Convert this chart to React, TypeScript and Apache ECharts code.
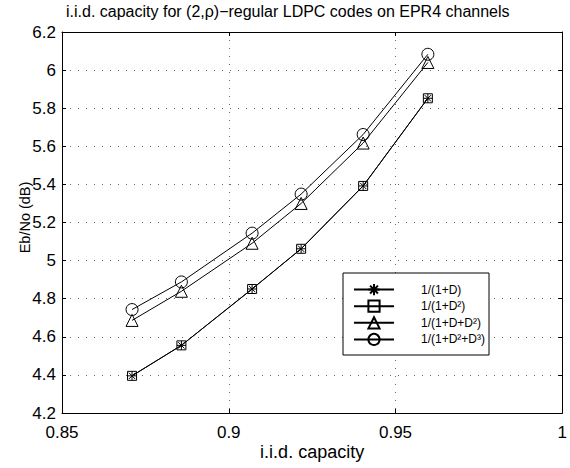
import React, { useEffect, useRef } from "react";
import * as echarts from "echarts";

const capacity = [0.871, 0.8858, 0.907, 0.9217, 0.9403, 0.9597];
const seriesNames = ["1/(1+D)", "1/(1+D²)", "1/(1+D+D²)", "1/(1+D²+D³)"];
const ebnoD = [4.395, 4.555, 4.851, 5.062, 5.392, 5.852];
const ebnoD2 = [4.395, 4.555, 4.851, 5.062, 5.392, 5.852];
const ebnoDD2 = [4.686, 4.839, 5.091, 5.3, 5.617, 6.04];
const ebnoD2D3 = [4.743, 4.888, 5.144, 5.349, 5.662, 6.083];
const titleText = "i.i.d. capacity for (2,ρ)−regular LDPC codes on EPR4 channels";
const xName = "i.i.d. capacity";
const yName = "Eb/No (dB)";

const FONT = "'Liberation Sans', Arial, Helvetica, sans-serif";
const ASTERISK = "path://M0,-5L0,5M-5,0L5,0M-3.54,-3.54L3.54,3.54M-3.54,3.54L3.54,-3.54";

function pairs(ys: number[]) {
  return capacity.map((x, i) => [x, ys[i]]);
}

export default function App() {
  const ref = useRef<HTMLDivElement>(null);
  useEffect(() => {
    if (!ref.current) return;
    const chart = echarts.init(ref.current, undefined, { renderer: "svg" });
    const baseSeries = (name: string, data: number[], symbol: string, size: number) => ({
      name,
      type: "line",
      data: pairs(data),
      symbol,
      symbolSize: size,
      showAllSymbol: true,
      lineStyle: { color: "#000", width: 1 },
      itemStyle: { color: "rgba(0,0,0,0)", borderColor: "#000", borderWidth: 1 },
      emphasis: { disabled: true },
    });
    const axisCommon = {
      axisLine: { show: true, onZero: false, lineStyle: { color: "#000", width: 1 } },
      axisTick: { show: true, inside: true, length: 4, lineStyle: { color: "#000" } },
    };
    const option: any = {
      animation: false,
      backgroundColor: "#fff",
      textStyle: { fontFamily: FONT },
      graphic: [
        {
          type: "text",
          left: 66,
          top: 3,
          style: {
            text: titleText,
            fontFamily: FONT,
            fontSize: 16,
            fill: "#000",
          },
        },
      ],
      grid: { left: 62, right: 2, top: 32, bottom: 55, containLabel: false },
      legend: {
        data: seriesNames,
        orient: "vertical",
        left: 343,
        top: 273,
        itemWidth: 40,
        itemHeight: 14,
        itemGap: 3.4,
        padding: [10, 4, 9, 10],
        borderColor: "#000",
        borderWidth: 1,
        backgroundColor: "#fff",
        selectedMode: false,
        formatter: (n: string) => `{t|${n}}`,
        textStyle: {
          fontFamily: FONT,
          fontSize: 12,
          color: "#000",
          rich: { t: { fontFamily: FONT, fontSize: 12, color: "#000", padding: [0, 0, 0, 22] } },
        },
      },
      xAxis: [
        {
          type: "value",
          min: 0.85,
          max: 1,
          interval: 0.05,
          name: xName,
          nameLocation: "middle",
          nameGap: 30,
          nameMoveOverlap: false,
          nameTextStyle: { fontFamily: FONT, fontSize: 18, color: "#000" },
          ...axisCommon,
          axisLabel: { fontFamily: FONT, fontSize: 17, color: "#000", margin: 11 },
          splitLine: { show: true, lineStyle: { color: "#666", width: 1, type: [1, 7] } },
        },
        {
          type: "value",
          position: "top",
          min: 0.85,
          max: 1,
          interval: 0.05,
          ...axisCommon,
          axisLabel: { show: false },
          splitLine: { show: false },
        },
      ],
      yAxis: [
        {
          type: "value",
          min: 4.2,
          max: 6.2,
          interval: 0.2,
          name: yName,
          nameLocation: "middle",
          nameGap: 30,
          nameRotate: 90,
          nameMoveOverlap: false,
          nameTextStyle: { fontFamily: FONT, fontSize: 14.5, color: "#000", padding: [0, 0, 0, 10] },
          ...axisCommon,
          axisLabel: { fontFamily: FONT, fontSize: 17, color: "#000", margin: 6 },
          splitLine: { show: true, lineStyle: { color: "#666", width: 1, type: [1, 7] } },
        },
        {
          type: "value",
          position: "right",
          min: 4.2,
          max: 6.2,
          interval: 0.2,
          ...axisCommon,
          axisLabel: { show: false },
          splitLine: { show: false },
        },
      ],
      series: [
        baseSeries(seriesNames[0], ebnoD, ASTERISK, 9),
        baseSeries(seriesNames[1], ebnoD2, "rect", 9),
        baseSeries(seriesNames[2], ebnoDD2, "triangle", 12),
        baseSeries(seriesNames[3], ebnoD2D3, "circle", 12),
      ],
    };
    chart.setOption(option);
    return () => chart.dispose();
  }, []);
  return (
    <div
      ref={ref}
      style={{ position: "absolute", left: 0, top: 0, width: 570, height: 468 }}
    />
  );
}
